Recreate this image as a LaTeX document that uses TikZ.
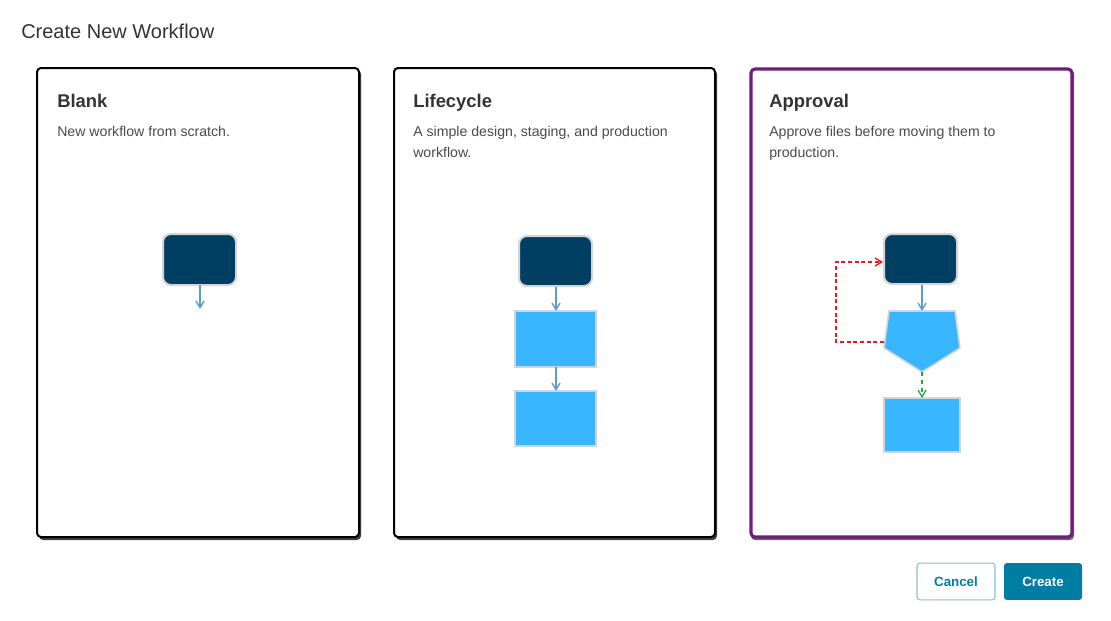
\documentclass[tikz,border=0pt]{standalone}
\usepackage{fontspec}
\setmainfont{Liberation Sans}
\usetikzlibrary{arrows.meta}
\definecolor{dark}{HTML}{003E62}
\definecolor{lblue}{HTML}{38B6FF}
\definecolor{edge}{HTML}{D4D4D8}
\definecolor{arr}{HTML}{5B9BD5}
\definecolor{purp}{HTML}{6E1E7A}
\definecolor{txt}{HTML}{333333}
\definecolor{desc}{HTML}{4A4A4A}
\definecolor{teal}{HTML}{007DA3}
\definecolor{cborder}{HTML}{86BED0}
\definecolor{rd}{HTML}{F01818}
\definecolor{gr}{HTML}{22A844}
\begin{document}
\begin{tikzpicture}[x=0.75pt,y=-0.75pt,
 card/.style={draw=black,line width=1.5pt,rounded corners=3pt,fill=white},
 shadow/.style={fill=black!75,rounded corners=3pt},
 darkbox/.style={draw=edge,line width=1.5pt,fill=dark,rounded corners=6pt},
 bluebox/.style={draw=edge,line width=1.2pt,fill=lblue},
 flow/.style={draw=arr,line width=1pt,-{Straight Barb[length=5pt,width=6pt]}},
 ttl/.style={anchor=base west,font=\bfseries\fontsize{13.8}{16}\selectfont,text=txt,inner sep=0},
 dsc/.style={anchor=north west,font=\fontsize{10.6}{15.5}\selectfont,text=desc,inner sep=0,align=left}]
\useasboundingbox (0,0) rectangle (1111,621);
\node[anchor=west,inner sep=0,font=\fontsize{15}{18}\selectfont,text=txt] (head) at (21,31) {Create New Workflow};
% cards
\fill[shadow] (39,70) rectangle (361,540);
\draw[card] (37,68) rectangle (359,537);
\fill[shadow] (396,70) rectangle (717,540);
\draw[card] (394,68) rectangle (715,537);
\fill[black!60,rounded corners=3pt] (751,70) rectangle (1074,540);
\draw[card,draw=purp,line width=2.3pt] (751,69) rectangle (1072,537);
\node[ttl] (t1) at (57,107.5) {Blank};
\node[dsc] (d1) at (57,126) {New workflow from scratch.};
\node[ttl] (t2) at (413,107.5) {Lifecycle};
\node[dsc] (d2) at (413,126) {A simple design, staging, and production\\workflow.};
\node[ttl] (t3) at (769,107.5) {Approval};
\node[dsc] (d3) at (769,126) {Approve files before moving them to\\production.};
% blank
\draw[darkbox] (163,234) rectangle (236,285);
\coordinate (b1) at (200,285); \coordinate (b2) at (200,309);
\draw[flow] (b1) -- (b2);
% lifecycle
\draw[darkbox] (519,236) rectangle (592,286);
\draw[bluebox] (515,311) rectangle (596,367);
\draw[bluebox] (515,391) rectangle (596,446);
\coordinate (l1) at (556,287); \coordinate (l2) at (556,311);
\coordinate (l3) at (556,367); \coordinate (l4) at (556,391);
\draw[flow] (l1) -- (l2);
\draw[flow] (l3) -- (l4);
% approval
\draw[darkbox] (884,234) rectangle (957,284);
\draw[bluebox,line join=round] (889,311) -- (955,311) -- (960,348) -- (922,372) -- (884,348) -- cycle;
\draw[bluebox] (884,398) rectangle (960,452);
\coordinate (a1) at (922,285); \coordinate (a2) at (922,311);
\draw[flow] (a1) -- (a2);
\coordinate (g1) at (922,372); \coordinate (g2) at (922,398);
\draw[draw=gr,line width=1pt,dashed,-{Straight Barb[length=5pt,width=6pt]}] (g1) -- (g2);
\coordinate (r1) at (884,342); \coordinate (r2) at (883,262);
\draw[draw=rd,line width=1pt,dash pattern=on 3pt off 2pt,-{Straight Barb[length=5pt,width=6pt]}] (r1) -- (836,342) -- (836,262) -- (r2);
% buttons
\node[draw=cborder,line width=0.8pt,rounded corners=2pt,minimum width=58.5pt,minimum height=27.5pt,text=teal,font=\bfseries\fontsize{10}{12}\selectfont,inner sep=0] (cancel) at (956,581.5) {Cancel};
\node[fill=teal,rounded corners=2pt,minimum width=58.5pt,minimum height=27.5pt,text=white,font=\bfseries\fontsize{10}{12}\selectfont,inner sep=0] (create) at (1043,581.5) {Create};
\end{tikzpicture}
\end{document}
